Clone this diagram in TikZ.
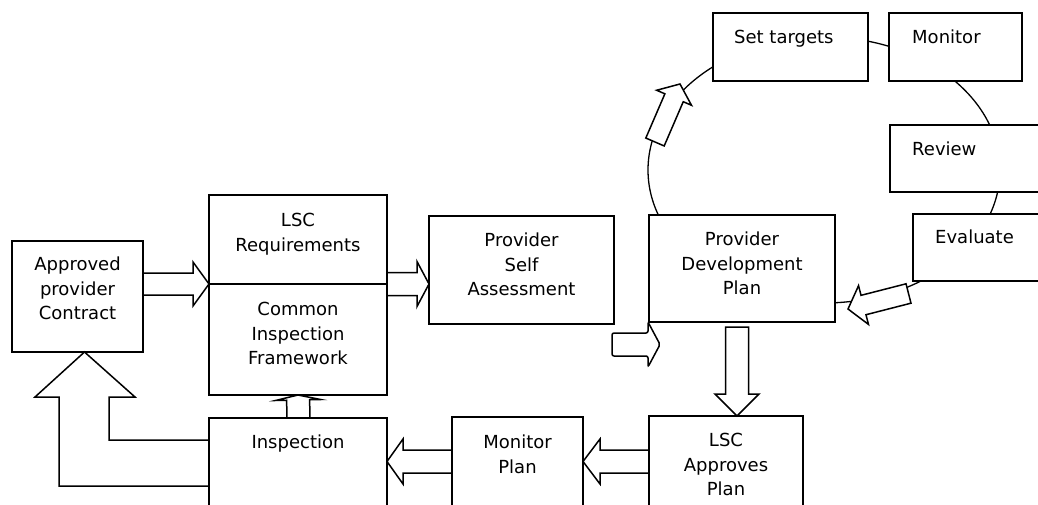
\documentclass[tikz,border=0pt]{standalone}
\usepackage{fontspec}
\setmainfont{DejaVu Sans}
\usetikzlibrary{positioning,calc}

\tikzset{
  box/.style={draw,fill=white,line width=1.6pt,inner sep=0pt,outer sep=0pt,anchor=north west},
  boxtext/.style={inner sep=0pt,align=center,anchor=north},
  lefttext/.style={inner sep=0pt,align=left,anchor=north west},
  arrowline/.style={draw,line width=1.5pt,line join=miter},
  cycleline/.style={line width=1.3pt},
}

% Block arrow: [style]{tail}{tip}{half shaft}{half head}{head length}{closing}
\newcommand{\blockarrow}[7][]{%
  \coordinate (ba-base) at ($(#3)!#6!(#2)$);
  \draw[arrowline,#1] ($(#2)!#4!90:(#3)$) -- ($(ba-base)!#4!90:(#3)$)
    -- ($(ba-base)!#5!90:(#3)$) -- (#3) -- ($(ba-base)!#5!-90:(#3)$)
    -- ($(ba-base)!#4!-90:(#3)$) -- ($(#2)!#4!-90:(#3)$) #7;
}

\begin{document}
\begin{tikzpicture}[x=1pt,y=-1pt,font=\fontsize{18}{24.5}\selectfont]
  \clip (0,0) rectangle (1038,505);

  % Development cycle, drawn first so the boxes cover it.
  \draw[cycleline] (824,170) ellipse [x radius=176, y radius=133];

  % Boxes.
  \node[box,minimum width=131,minimum height=111] (approved) at (12,241) {};
  \node[box,minimum width=178,minimum height=89] (lscreq) at (209,195) {};
  \node[box,minimum width=178,minimum height=111] (cif) at (209,284) {};
  \node[box,minimum width=185,minimum height=108] (psa) at (429,216) {};
  \node[box,minimum width=186,minimum height=107] (pdp) at (649,215) {};
  \node[box,minimum width=155,minimum height=68] (settargets) at (713,13) {};
  \node[box,minimum width=133,minimum height=68] (monitor) at (889,13) {};
  \node[box,minimum width=160,minimum height=67] (review) at (890,125) {};
  \node[box,minimum width=140,minimum height=67] (evaluate) at (913,214) {};
  \node[box,minimum width=178,minimum height=110] (inspection) at (209,418) {};
  \node[box,minimum width=131,minimum height=110] (monitorplan) at (452,417) {};
  \node[box,minimum width=154,minimum height=110] (lscapp) at (649,416) {};

  % Box texts.
  \node[boxtext,below=16pt of approved.north] (approved-t) {Approved\\provider\\Contract};
  \node[boxtext,below=18pt of lscreq.north] (lscreq-t) {LSC\\Requirements};
  \node[boxtext,below=18pt of cif.north] (cif-t) {Common\\Inspection\\Framework};
  \node[boxtext,below=17pt of psa.north] (psa-t) {Provider\\Self\\Assessment};
  \node[boxtext,below=17pt of pdp.north] (pdp-t) {Provider\\Development\\Plan};
  \node[boxtext,below=17pt of inspection.north] (inspection-t) {Inspection};
  \node[boxtext,below=18pt of monitorplan.north] (monitorplan-t) {Monitor\\Plan};
  \node[boxtext,below=17pt of lscapp.north] (lscapp-t) {LSC\\Approves\\Plan};
  \node[lefttext,below right=17pt and 21pt of settargets.north west] (settargets-t) {Set targets};
  \node[lefttext,below right=17pt and 23pt of monitor.north west] (monitor-t) {Monitor};
  \node[lefttext,below right=17pt and 22pt of review.north west] (review-t) {Review};
  \node[lefttext,below right=16pt and 22pt of evaluate.north west] (evaluate-t) {Evaluate};

  % Arrow end points.
  \coordinate (apc-tail) at (approved.east |- lscreq.south);
  \coordinate (psa-tip) at (psa.west |- lscreq.south east);
  \coordinate (lap-tail) at ([yshift=-45.5pt]lscapp.north west);
  \coordinate (mp-tip) at (monitorplan.east |- lap-tail);
  \coordinate (mp-tail) at (monitorplan.west |- lap-tail);
  \coordinate (ins-tip) at (inspection.east |- lap-tail);
  \coordinate (pdp-tail) at ([shift={(-5,5)}]pdp.south);
  \coordinate (lap-tip) at ([xshift=11pt]lscapp.north);
  \coordinate (ins-top) at ([xshift=0.5pt]inspection.north);
  \coordinate (ins-in) at ([yshift=-22pt]inspection.north west);
  \coordinate (ins-out) at ([yshift=-68pt]inspection.north west);
  \coordinate (st-tail) at (655,142);
  \coordinate (st-tip) at (680,84);
  \coordinate (ev-tail) at (908.5,293.5);
  \coordinate (ev-tip) at (848,309);
  \coordinate (sr-tail) at (612,344.5);
  \coordinate (sr-tip) at (660,344.5);

  % Block arrows.
  \blockarrow{apc-tail}{lscreq.south west}{11pt}{22pt}{16pt}{}
  \blockarrow{lscreq.south east}{psa-tip}{11.5pt}{22.5pt}{12pt}{}
  \blockarrow{lap-tail}{mp-tip}{11.5pt}{22.5pt}{17pt}{}
  \blockarrow{mp-tail}{ins-tip}{11.5pt}{22.5pt}{16pt}{}
  \blockarrow{ins-top}{cif.south}{11.5pt}{22.5pt}{5pt}{}
  \blockarrow[fill=white]{pdp-tail}{lap-tip}{11.5pt}{22pt}{22pt}{-- cycle}
  \blockarrow[fill=white]{st-tail}{st-tip}{10pt}{19pt}{15pt}{-- cycle}
  \blockarrow[fill=white]{ev-tail}{ev-tip}{10pt}{20pt}{16pt}{-- cycle}
  \blockarrow[fill=white,rounded corners=2pt]{sr-tail}{sr-tip}{11.5pt}{22.5pt}{12pt}{-- cycle}

  % Bent arrow back to the contract.
  \draw[arrowline] (ins-in) -| (109,397) -- (135,397) -- ([xshift=7pt]approved.south)
    -- (35,397) -- (59,397) |- (ins-out);
\end{tikzpicture}
\end{document}
